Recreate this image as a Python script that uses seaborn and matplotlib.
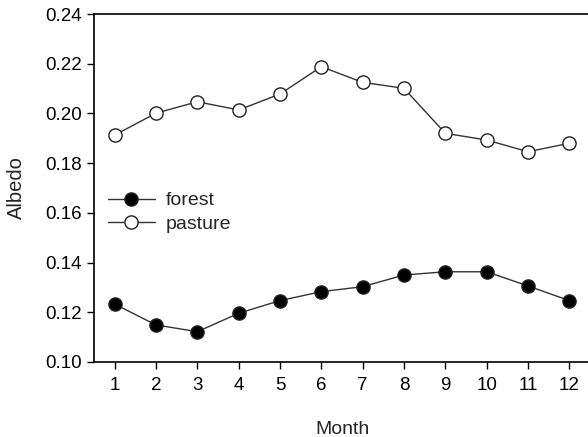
import numpy as np
import pandas as pd
import matplotlib
matplotlib.use("Agg")
import matplotlib.pyplot as plt
import seaborn as sns

months = [1, 2, 3, 4, 5, 6, 7, 8, 9, 10, 11, 12]
forest = [0.1233, 0.1149, 0.1122, 0.1196, 0.1247, 0.1283,
          0.1303, 0.1350, 0.1363, 0.1363, 0.1306, 0.1247]
pasture = [0.1913, 0.2001, 0.2047, 0.2014, 0.2078, 0.2188,
           0.2125, 0.2101, 0.1920, 0.1893, 0.1846, 0.1880]
yticks = [0.10, 0.12, 0.14, 0.16, 0.18, 0.20, 0.22, 0.24]

sns.set_style("ticks")
plt.rcParams["font.family"] = ["Liberation Sans", "DejaVu Sans"]

df = pd.DataFrame({"Month": months * 2,
                   "Albedo": forest + pasture,
                   "cover": ["forest"] * 12 + ["pasture"] * 12})

fig = plt.figure(figsize=(5.88, 4.37), dpi=100)
ax = fig.add_axes([94 / 588, 1 - 362 / 437, (590 - 94) / 588, (362 - 14) / 437])

styles = {"forest": "black", "pasture": "white"}
for name, face in styles.items():
    sub = df[df["cover"] == name]
    sns.lineplot(data=sub, x="Month", y="Albedo", ax=ax, color="#333333",
                 linewidth=1.0, marker="o", markersize=9.5,
                 markerfacecolor=face, markeredgecolor="#222222",
                 markeredgewidth=1.0, label=name)

ax.set_xlim(0.5, 12.5)
ax.set_ylim(0.10, 0.24)
ax.set_xticks(months)
ax.set_yticks(yticks)
ax.set_yticklabels([f"{v:.2f}" for v in yticks])
ax.tick_params(direction="out", length=5, width=1, labelsize=13.5, colors="black")
ax.tick_params(axis="x", pad=6)
for s in ax.spines.values():
    s.set_linewidth(1.2)
    s.set_color("black")
ax.spines["right"].set_visible(True)
ax.spines["top"].set_visible(True)

ax.set_xlabel("Month", fontsize=14, labelpad=19)
ax.set_ylabel("Albedo", fontsize=14.5, labelpad=14)

leg = ax.legend(loc="center left", bbox_to_anchor=(0.0125, 0.43), frameon=False,
                fontsize=14, handlelength=2.4, handletextpad=0.55,
                labelspacing=0.3, borderaxespad=0.0)

fig.savefig("out.png", dpi=100)
